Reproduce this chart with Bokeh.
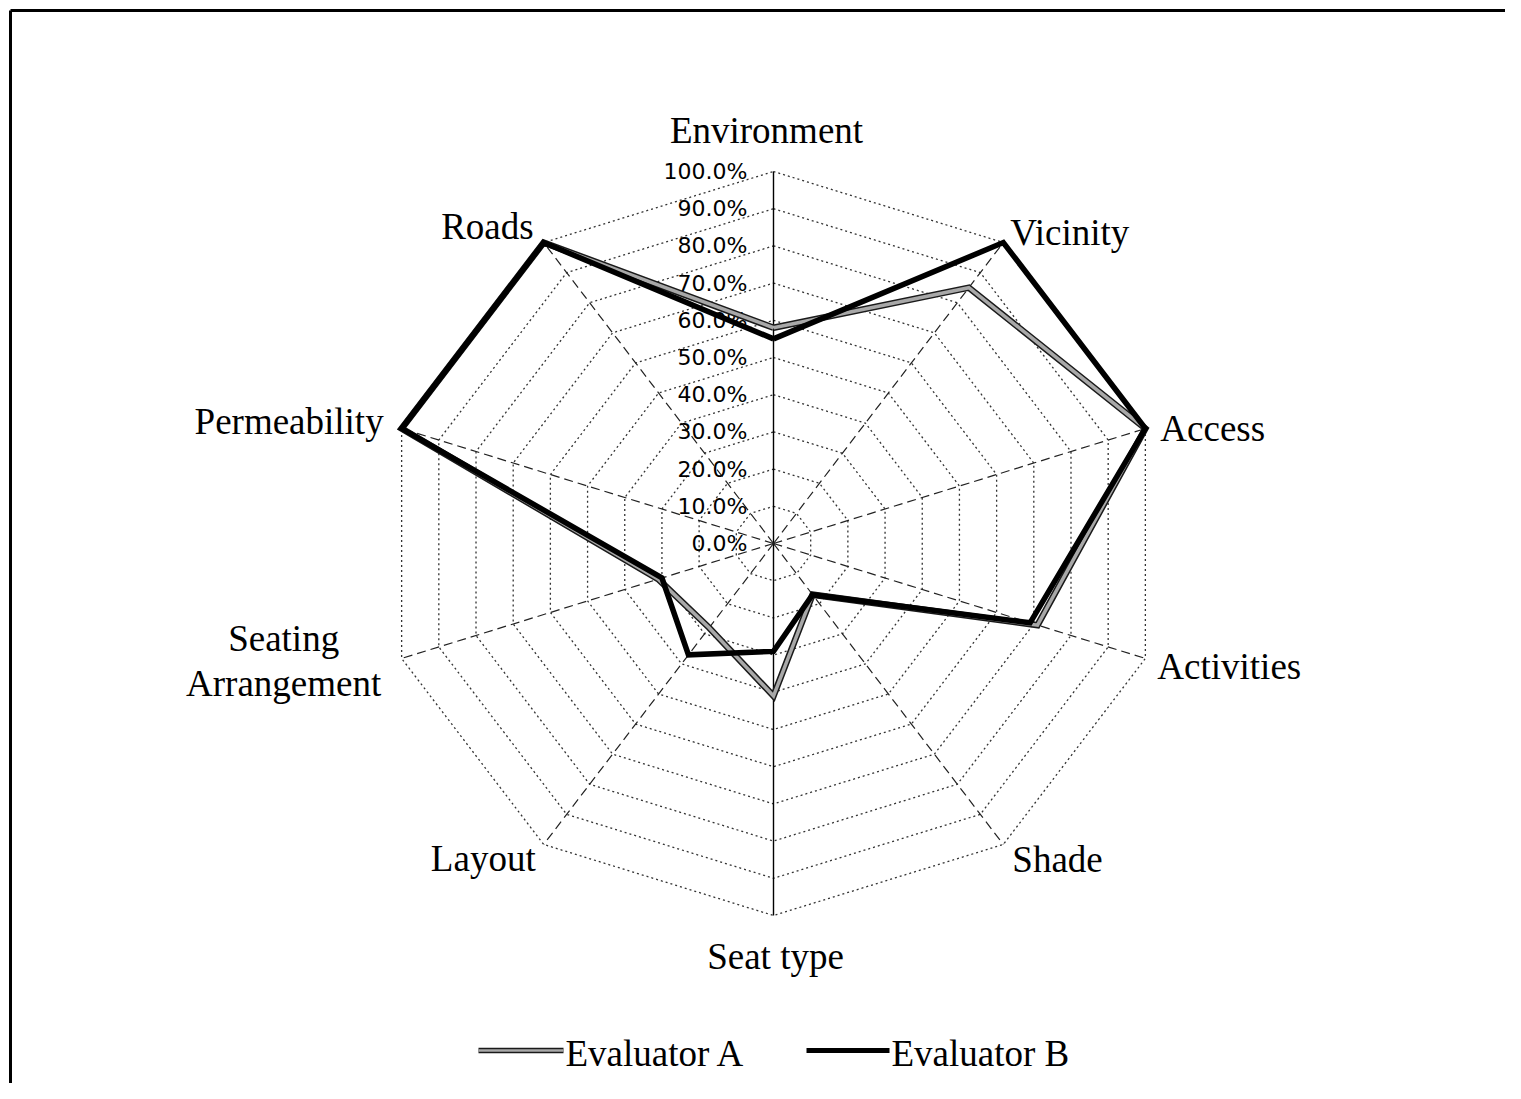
import numpy as np
from bokeh.plotting import figure
from bokeh.models import Range1d
from bokeh.core.properties import value
from bokeh.embed import file_html
from bokeh.resources import INLINE

# ---- data ----
categories = ["Environment", "Vicinity", "Access", "Activities", "Shade",
              "Seat type", "Layout", "Seating Arrangement", "Permeability", "Roads"]
evaluator_a = [0.58, 0.85, 1.00, 0.71, 0.17, 0.41, 0.28, 0.31, 1.00, 1.00]
evaluator_b = [0.55, 1.00, 1.00, 0.69, 0.17, 0.29, 0.37, 0.30, 1.00, 1.00]
tick_values = [0.0, 0.1, 0.2, 0.3, 0.4, 0.5, 0.6, 0.7, 0.8, 0.9, 1.0]
tick_labels = ["0.0%", "10.0%", "20.0%", "30.0%", "40.0%", "50.0%",
               "60.0%", "70.0%", "80.0%", "90.0%", "100.0%"]
series_names = ["Evaluator A", "Evaluator B"]

# ---- layout (page pixel coordinates) ----
W, H = 1505, 1083
CX, CY = 773, 543
RX, RY = 391, 372
SERIF = value("Liberation Serif")
FS = "37px"
TY = -9  # baseline correction for serif labels

p = figure(width=W, height=H, output_backend="svg", toolbar_location=None,
           x_axis_location=None, y_axis_location=None,
           x_range=Range1d(0, W), y_range=Range1d(H, 0),
           min_border=0, outline_line_color=None)
p.grid.visible = False
p.background_fill_color = "white"
p.border_fill_color = "white"

n = len(categories)
ang = np.arange(n) * 2 * np.pi / n


def pt(r, k):
    return CX + r * RX * np.sin(ang[k]), CY - r * RY * np.cos(ang[k])


# frame border (left/top visible in reference)
p.line([10, 10], [H, 10], line_color="black", line_width=3)
p.line([10, W], [10, 10], line_color="black", line_width=3)

# rings
for r in tick_values[1:]:
    xs = [pt(r, k)[0] for k in list(range(n)) + [0]]
    ys = [pt(r, k)[1] for k in list(range(n)) + [0]]
    p.line(xs, ys, line_color="#333333", line_width=1.3, line_dash="2 3")

# spokes
for k in range(n):
    x1, y1 = pt(1.0, k)
    if k in (0, 5):
        p.line([CX, x1], [CY, y1], line_color="black", line_width=1.4)
    else:
        p.line([CX, x1], [CY, y1], line_color="#222222", line_width=1.2,
               line_dash="9 5")

# tick labels
p.text(x=[CX - 26] * len(tick_values),
       y=[CY - v * RY for v in tick_values],
       text=tick_labels, text_font=value("DejaVu Sans"), text_font_size="22px",
       text_align="right", text_baseline="middle", text_color="black")

# series
def closed(vals):
    xs = [pt(vals[k], k)[0] for k in list(range(n)) + [0]]
    ys = [pt(vals[k], k)[1] for k in list(range(n)) + [0]]
    return xs, ys

ax, ay = closed(evaluator_a)
p.line(ax, ay, line_color="#1a1a1a", line_width=6.5, line_join="miter")
p.line(ax, ay, line_color="#a8a8a8", line_width=3.5, line_join="miter")
bx, by = closed(evaluator_b)
p.line(bx, by, line_color="black", line_width=5.5, line_join="miter")

# category labels
offsets = [(-7, -32, "center"), (7, -1, "left"), (15, 9, "left"), (12, 17, "left"),
           (9, 24, "left"), (2, 50, "center"), (-8, 23, "right"), None,
           (-18, 2, "right"), (-10, -7, "right")]
for k, name in enumerate(categories):
    vx, vy = pt(1.0, k)
    if offsets[k] is None:
        words = name.split(" ")
        p.text(x=[vx - 118], y=[vy - 11 + TY], text=[words[0]], text_font=SERIF,
               text_font_size=FS, text_align="center",
               text_baseline="alphabetic", text_color="black")
        p.text(x=[vx - 118], y=[vy + 34 + TY], text=[words[1]], text_font=SERIF,
               text_font_size=FS, text_align="center",
               text_baseline="alphabetic", text_color="black")
        continue
    dx, dy, al = offsets[k]
    p.text(x=[vx + dx], y=[vy + dy + TY], text=[name], text_font=SERIF,
           text_font_size=FS, text_align=al, text_baseline="alphabetic",
           text_color="black")

# legend
p.line([478, 563], [1050, 1050], line_color="#1a1a1a", line_width=5.5)
p.line([478, 563], [1050, 1050], line_color="#a8a8a8", line_width=2.5)
p.text(x=[565], y=[1062 + TY], text=[series_names[0]], text_font=SERIF,
       text_font_size=FS, text_align="left", text_baseline="alphabetic")
p.line([806, 889], [1050, 1050], line_color="black", line_width=5)
p.text(x=[891], y=[1062 + TY], text=[series_names[1]], text_font=SERIF,
       text_font_size=FS, text_align="left", text_baseline="alphabetic")

open("out.html", "w").write(file_html(p, INLINE))
